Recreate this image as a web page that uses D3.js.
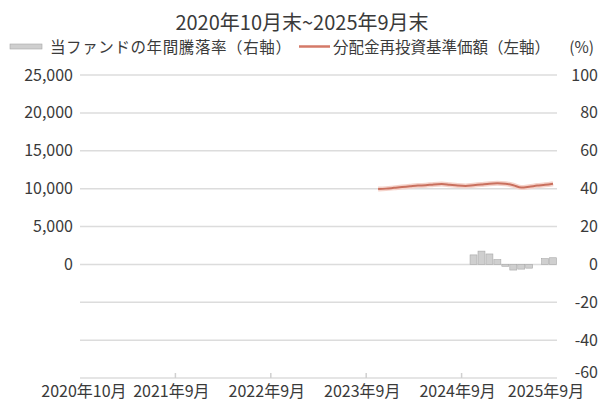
<!DOCTYPE html>
<html>
<head>
<meta charset="utf-8">
<script src="https://d3js.org/d3.v7.min.js"></script>
<style>
  body { margin: 0; background: #fff; }
  text { font-family: "Noto Sans CJK JP", "Noto Sans", sans-serif; fill: #3a3a3a; }
</style>
</head>
<body>
<script>
  // 60 months: 2020/10 .. 2025/9
  var months = [];
  for (var i = 0; i < 60; i++) {
    var y = 2020 + Math.floor((9 + i) / 12), m = (9 + i) % 12 + 1;
    months.push(y + "-" + m);
  }
  var xLabels = ["2020年10月", "2021年9月", "2022年9月", "2023年9月", "2024年9月", "2025年9月"];
  var xLabelIdx = [0, 11, 23, 35, 47, 59];

  // 分配金再投資基準価額 (left axis), from 2023/11
  var navStart = 37;
  var navValues = [9950, 10000, 10100, 10200, 10300, 10400, 10450, 10550, 10600, 10500, 10400,
                   10350, 10450, 10550, 10650, 10700, 10650, 10450, 10150, 10250, 10400, 10500, 10650];

  // 年間騰落率 (right axis, %), from 2024/11
  var retStart = 49;
  var retValues = [5, 7, 5.5, 2.5, -1, -3, -2.5, -2, 0, 3, 3.5];

  var leftTicks = [0, 5000, 10000, 15000, 20000, 25000];
  var rightTicks = [-60, -40, -20, 0, 20, 40, 60, 80, 100];

  var W = 601, H = 401;
  var L = 80, R = 557, T = 75, B = 378;

  var svg = d3.select("body").append("svg").attr("width", W).attr("height", H);

  var x = d3.scaleBand().domain(months).range([L, R]).padding(0);
  var yR = d3.scaleLinear().domain([-60, 100]).range([B, T]);
  var yL = d3.scaleLinear().domain([-15000, 25000]).range([B, T]);

  // grid
  svg.append("g").selectAll("line").data(rightTicks).enter().append("line")
    .attr("x1", L).attr("x2", R)
    .attr("y1", function(d) { return yR(d); }).attr("y2", function(d) { return yR(d); })
    .attr("stroke", "#dcdcdc").attr("stroke-width", 1.5);

  // bottom ticks at year boundaries
  svg.append("g").selectAll("line").data([12, 24, 36, 48]).enter().append("line")
    .attr("x1", function(d) { return x(months[d]); }).attr("x2", function(d) { return x(months[d]); })
    .attr("y1", B).attr("y2", B - 5)
    .attr("stroke", "#d0d0d0").attr("stroke-width", 1.5);

  // bars
  var retData = retValues.map(function(v, i) { return {m: months[retStart + i], v: v}; });
  svg.append("g").selectAll("rect").data(retData).enter().append("rect")
    .attr("x", function(d) { return x(d.m) + 0.5; })
    .attr("width", x.bandwidth() - 1)
    .attr("y", function(d) { return Math.min(yR(d.v), yR(0)); })
    .attr("height", function(d) { return Math.abs(yR(d.v) - yR(0)); })
    .attr("fill", "#cfcfcf").attr("stroke", "#a8a8a8").attr("stroke-width", 0.6);

  // nav line
  var navData = navValues.map(function(v, i) { return {m: months[navStart + i], v: v}; });
  var line = d3.line().curve(d3.curveMonotoneX)
    .x(function(d) { return x(d.m) + x.bandwidth() / 2; })
    .y(function(d) { return yL(d.v); });
  svg.append("path").datum(navData).attr("d", line)
    .attr("fill", "none").attr("stroke", "#f5d3cb").attr("stroke-width", 5);
  svg.append("path").datum(navData).attr("d", line)
    .attr("fill", "none").attr("stroke", "#c9705e").attr("stroke-width", 2);

  // left axis labels
  svg.append("g").selectAll("text").data(leftTicks).enter().append("text")
    .attr("x", 73).attr("y", function(d) { return yL(d); }).attr("dy", "0.35em")
    .attr("text-anchor", "end").attr("font-size", 16)
    .text(function(d) { return d3.format(",")(d); });

  // right axis labels (-60 nudged up, as in the original)
  svg.append("g").selectAll("text").data(rightTicks).enter().append("text")
    .attr("x", 598).attr("y", function(d) { return yR(d) - (d === -60 ? 6 : 0); }).attr("dy", "0.35em")
    .attr("text-anchor", "end").attr("font-size", 16)
    .text(function(d) { return d; });

  // x labels
  svg.append("g").selectAll("text").data(xLabelIdx).enter().append("text")
    .attr("x", function(d, i) { return x(months[d]) + x.bandwidth() / 2 + (i === 5 ? -7 : 0); })
    .attr("y", 397).attr("text-anchor", "middle").attr("font-size", 16)
    .text(function(d, i) { return xLabels[i]; });

  // title
  svg.append("text").attr("x", 302).attr("y", 30).attr("text-anchor", "middle")
    .attr("font-size", 20).text("2020年10月末~2025年9月末");

  // legend
  svg.append("rect").attr("x", 10).attr("y", 44).attr("width", 32).attr("height", 5)
    .attr("fill", "#cfcfcf").attr("stroke", "#a8a8a8").attr("stroke-width", 0.6);
  svg.append("text").attr("x", 50).attr("y", 53).attr("font-size", 15.5)
    .attr("letter-spacing", 0.6)
    .text("当ファンドの年間騰落率（右軸）");
  svg.append("line").attr("x1", 299).attr("x2", 330).attr("y1", 46.5).attr("y2", 46.5)
    .attr("stroke", "#d47a68").attr("stroke-width", 2.5);
  svg.append("text").attr("x", 333).attr("y", 53).attr("font-size", 15.5)
    .text("分配金再投資基準価額（左軸）");
  svg.append("text").attr("x", 594).attr("y", 53).attr("text-anchor", "end").attr("font-size", 15.5)
    .text("(%)");
</script>
</body>
</html>
